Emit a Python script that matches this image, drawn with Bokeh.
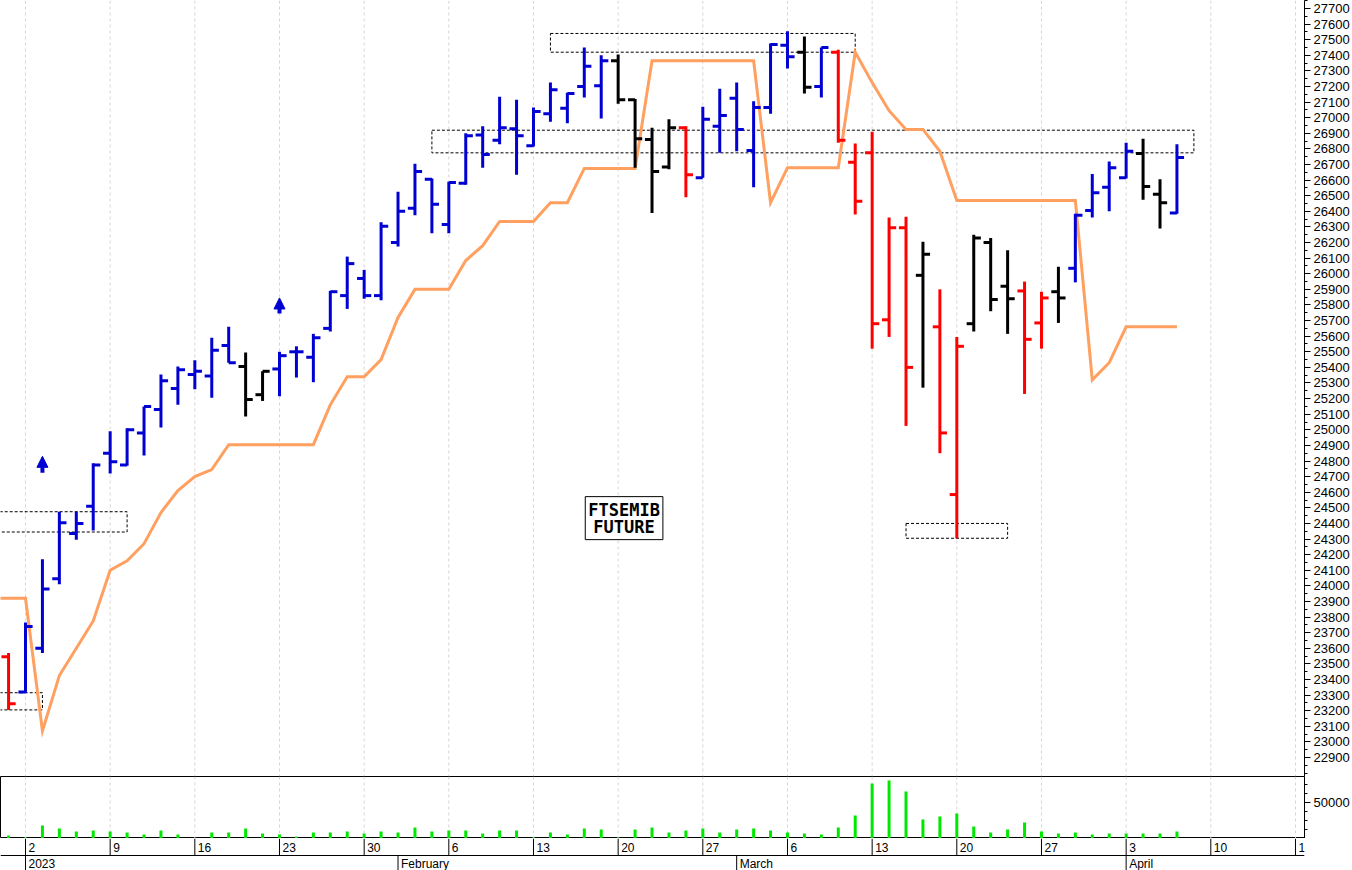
import numpy as np
import pandas as pd
from bokeh.plotting import figure
from bokeh.layouts import column
from bokeh.models import (Range1d, FixedTicker, Span, Label, Arrow, NormalHead,
                          NumeralTickFormatter)
from bokeh.embed import file_html
from bokeh.resources import INLINE
from bokeh.core.properties import value

# ------------------------------------------------------------------ data
# FTSEMIB future, daily sessions 30 Dec 2022 .. 6 Apr 2023
dates = pd.bdate_range("2022-12-30", "2023-04-06")

opens = [23545, 23320, 23600, 24045, 24335, 24510, 24850, 24775, 24980, 25130,
         25265, 25355, 25345, 25540, 25405, 25225, 25390, 25500, 25465, 25650,
         25860, 25970, 25860, 26200, 26420, 26605, 26315, 26580, 26890, 26855,
         26930, 26820, 27025, 27060, 27200, 27205, 27365, 27115, 26860, 26685,
         26935, 26615, 26945, 27125, 26790, 27065, 27465, 27420, 27200, 27420,
         26715, 26775, 25705, 26295, 25990, 25660, 24585, 25680, 26200, 25920,
         25890, 25685, 25885, 26035, 26405, 26555, 26615, 26770, 26510, 26390]
highs = [23570, 23765, 24170, 24475, 24475, 24785, 24990, 25010, 25150, 25355,
         25405, 25445, 25590, 25660, 25495, 25375, 25500, 25535, 25615, 25890,
         26110, 26025, 26330, 26525, 26705, 26610, 26590, 26900, 26945, 27135,
         27115, 27065, 27225, 27160, 27450, 27400, 27405, 27120, 26935, 26990,
         26945, 27070, 27185, 27225, 27105, 27475, 27555, 27520, 27450, 27435,
         26835, 26910, 26360, 26365, 26205, 25900, 25595, 26250, 26230, 26150,
         25950, 25885, 26045, 26385, 26640, 26720, 26840, 26865, 26605, 26830]
lows = [23205, 23315, 23570, 24010, 24295, 24355, 24720, 24770, 24835, 25015,
        25160, 25260, 25205, 25430, 25085, 25185, 25215, 25335, 25305, 25630,
        25775, 25840, 25830, 26175, 26375, 26260, 26260, 26570, 26680, 26830,
        26635, 26815, 26975, 26965, 27130, 26995, 27090, 26680, 26390, 26670,
        26490, 26615, 26775, 26785, 26555, 27025, 27315, 27155, 27130, 26840,
        26380, 25520, 25595, 25025, 25270, 24850, 24305, 25630, 25760, 25615,
        25230, 25520, 25685, 25945, 26360, 26400, 26610, 26475, 26290, 26385]
closes = [23245, 23740, 23980, 24405, 24400, 24775, 24795, 25000, 25150, 25315,
          25385, 25375, 25510, 25430, 25195, 25375, 25475, 25500, 25590, 25885,
          26065, 25860, 26305, 26400, 26655, 26445, 26585, 26885, 26765, 26935,
          26885, 27040, 27180, 27155, 27330, 27365, 27115, 26865, 26655, 26935,
          26635, 26990, 27015, 26925, 27065, 27470, 27390, 27195, 27450, 26855,
          26465, 25680, 26295, 25400, 26125, 24980, 25535, 26230, 25835, 25840,
          25580, 25845, 25845, 26375, 26520, 26680, 26785, 26560, 26455, 26745]
# bar state: B = up trend (blue), K = neutral (black), R = down trend (red)
state = ("R" "BBBBBBBBBBBBB" "KK" "BBBBBBBBBBBBBBBBBBBB" "KKKK" "R" "BBBBBB"
         "K" "B" "RRRRR" "K" "RR" "KKK" "RR" "K" "BBBB" "KK" "B")
# trailing line, sessions 29 Dec 2022 .. 6 Apr 2023
trail_dates = pd.bdate_range("2022-12-29", "2023-04-06")
trail = [23920, 23920, 23920, 23070, 23425, 23600, 23775, 24100, 24160, 24270,
         24470, 24610, 24700, 24745, 24905, 24905, 24905, 24905, 24905, 24905,
         25160, 25340, 25340, 25450, 25720, 25900, 25900, 25900, 26085, 26180,
         26335, 26335, 26335, 26455, 26455, 26675, 26675, 26675, 26675, 27365,
         27365, 27365, 27365, 27365, 27365, 27365, 26455, 26680, 26680, 26680,
         26680, 27420, 27225, 27045, 26925, 26925, 26785, 26470, 26470, 26470,
         26470, 26470, 26470, 26470, 26470, 25320, 25430, 25660, 25660, 25660,
         25660]
volume = [4200, 1400, 18000, 13900, 9700, 11100, 9700, 8300, 5600, 11100,
          5600, 700, 8300, 8300, 13900, 6900, 5600, 2800, 8300, 8300,
          9700, 6900, 9700, 8300, 15300, 9700, 11100, 11100, 6900, 11100,
          11100, 1400, 8300, 5600, 13900, 12500, 1400, 12500, 15300, 8300,
          11100, 13900, 8300, 12500, 13900, 11100, 8300, 6900, 5600, 15300,
          31900, 76400, 80600, 65300, 26400, 30600, 34700, 16700, 8300, 12500,
          22200, 9700, 6900, 8300, 5600, 6900, 6900, 6900, 6900, 9700]

# zones (first session, last session, upper price, lower price)
zone_start = ["2022-12-28", "2022-12-28", "2023-02-14", "2023-02-03", "2023-03-15"]
zone_end = ["2023-01-03", "2023-01-10", "2023-03-10", "2023-04-07", "2023-03-23"]
zone_top = [23315, 24475, 27540, 26920, 24400]
zone_bottom = [23205, 24345, 27420, 26775, 24305]

# buy signals
signal_dates = ["2023-01-03", "2023-01-23"]
signal_base = [24725, 25745]
signal_tip = [24830, 25845]

# ------------------------------------------------------------------ helpers
calendar = pd.bdate_range("2022-12-26", "2023-04-21")
ORIGIN = calendar.get_loc(pd.Timestamp("2023-01-02"))


def pos(d):
    return calendar.get_loc(pd.Timestamp(d)) - ORIGIN


x = [pos(d) for d in dates]
xt = [pos(d) for d in trail_dates]

COL = {"B": "#0000D2", "K": "#000000", "R": "#FF0000"}
BLUE = COL["B"]
FONT = "Liberation Sans"

PX_PER_DAY = 16.933
PX_PER_PT = 0.15604
W = 1352
RB = 48
FRAME_W = W - RB
X0PX = 25  # pixel of first session of January
xr = Range1d(-X0PX / PX_PER_DAY, (FRAME_W - X0PX) / PX_PER_DAY)
PRICE_H = 776
yr = Range1d(27700 - (PRICE_H - 8) / PX_PER_PT, 27700 + 8 / PX_PER_PT)

mon_dates = [dd for dd in calendar if dd.weekday() == 0 and 0 <= pos(dd) <= xr.end]
mondays = [pos(dd) for dd in mon_dates]

# ------------------------------------------------------------------ price panel
p = figure(width=W, height=PRICE_H, x_range=xr, y_range=yr, toolbar_location=None,
           output_backend="svg", x_axis_location=None, y_axis_location="right",
           min_border_left=0, min_border_right=RB, min_border_top=0,
           min_border_bottom=0)
p.outline_line_color = None
p.grid.visible = False
p.background_fill_color = "white"

for m in mondays:
    p.add_layout(Span(location=m, dimension="height", line_color="#d4d4d4",
                      line_dash="3 3", line_width=1, level="underlay"))

ax = p.yaxis[0]
ax.ticker = FixedTicker(ticks=list(range(22900, 27701, 100)),
                        minor_ticks=list(range(22800, 27751, 50)))
ax.formatter = NumeralTickFormatter(format="0")
ax.major_label_text_font = FONT
ax.major_label_text_font_size = "13px"
ax.major_label_text_color = "black"
ax.major_label_standoff = 3
ax.major_tick_out = 6
ax.major_tick_in = 0
ax.minor_tick_out = 3
ax.minor_tick_in = 0
ax.axis_line_color = "black"
ax.major_tick_line_color = "black"
ax.minor_tick_line_color = "black"

# zones
p.quad(left=[pos(d) for d in zone_start], right=[pos(d) for d in zone_end],
       top=zone_top, bottom=zone_bottom, fill_color=None, line_color="black",
       line_width=1, line_dash="3 2")

# trailing line
p.line(xt, trail, line_color="#FFA060", line_width=3, line_join="miter")

# OHLC bars
T = 0.42
x0, y0, x1, y1, cc = [], [], [], [], []
for xi, o, h, l, c, s in zip(x, opens, highs, lows, closes, state):
    col = COL[s]
    x0 += [xi, xi - T, xi]
    x1 += [xi, xi, xi + T]
    y0 += [l, o, c]
    y1 += [h, o, c]
    cc += [col, col, col]
p.segment(x0=x0, y0=y0, x1=x1, y1=y1, line_color=cc, line_width=3,
          line_cap="butt")

# buy signal arrows
for d, b, t in zip(signal_dates, signal_base, signal_tip):
    p.add_layout(Arrow(end=NormalHead(size=11, fill_color=BLUE, line_color=BLUE,
                                      line_width=1),
                       x_start=pos(d), y_start=b, x_end=pos(d), y_end=t,
                       line_color=BLUE, line_width=4))

# instrument label
p.add_layout(Label(x=35.35, y=24434, text="FTSEMIB\nFUTURE", text_align="center",
                   text_baseline="middle", text_font="DejaVu Sans Mono",
                   text_font_style="bold", text_font_size="17px",
                   text_color="black", text_line_height=0.85,
                   border_line_color="black", border_line_width=1,
                   background_fill_color="white", padding=3))

# ------------------------------------------------------------------ volume panel
v = figure(width=W, height=62, x_range=xr, y_range=Range1d(0, 86100),
           toolbar_location=None, output_backend="svg", x_axis_location=None,
           y_axis_location="right", min_border_left=0, min_border_right=RB,
           min_border_top=0, min_border_bottom=0)
v.outline_line_color = "black"
v.grid.visible = False
for m in mondays:
    v.add_layout(Span(location=m, dimension="height", line_color="#d4d4d4",
                      line_dash="3 3", line_width=1, level="underlay"))
v.vbar(x=x, top=volume, bottom=0, width=3 / PX_PER_DAY, fill_color="#00E800",
       line_color=None)
vax = v.yaxis[0]
vax.ticker = FixedTicker(ticks=[50000], minor_ticks=[12500, 25000, 37500, 62500, 75000])
vax.formatter = NumeralTickFormatter(format="0")
vax.major_label_text_font = FONT
vax.major_label_text_font_size = "13px"
vax.major_label_text_color = "black"
vax.major_label_standoff = 3
vax.major_tick_out = 6
vax.major_tick_in = 0
vax.minor_tick_out = 3
vax.minor_tick_in = 0
vax.axis_line_color = "black"

# ------------------------------------------------------------------ date rows
d = figure(width=W, height=32, x_range=xr, y_range=Range1d(0, 32),
           toolbar_location=None, output_backend="svg", x_axis_location=None,
           y_axis_location=None, min_border_left=0, min_border_right=RB,
           min_border_top=0, min_border_bottom=0)
d.outline_line_color = None
d.grid.visible = False

d.segment(x0=mondays, y0=[15] * len(mondays), x1=mondays, y1=[32] * len(mondays),
          line_color="black", line_width=1)
d.text(x=mondays, y=[23.5] * len(mondays), text=[str(dd.day) for dd in mon_dates],
       text_font=value(FONT), text_font_size="12px", text_color="black",
       text_align="left", text_baseline="middle", x_offset=3)

month_first = []
seen = set()
for dd in dates:
    if pos(dd) < 0:
        continue
    if dd.month not in seen:
        seen.add(dd.month)
        month_first.append(dd)
mpos = [pos(dd) for dd in month_first]
mlab = [str(dd.year) if dd.month == 1 else dd.strftime("%B") for dd in month_first]
d.segment(x0=mpos, y0=[0] * len(mpos), x1=mpos, y1=[15] * len(mpos),
          line_color="black", line_width=1)
d.text(x=mpos, y=[7] * len(mpos), text=mlab, text_font=value(FONT),
       text_font_size="12px", text_color="black", text_align="left",
       text_baseline="middle", x_offset=3)
d.segment(x0=[xr.start], y0=[15], x1=[xr.end], y1=[15], line_color="black",
          line_width=1)

layout = column(p, v, d, spacing=0)
open("out.html", "w").write(file_html(layout, INLINE))
